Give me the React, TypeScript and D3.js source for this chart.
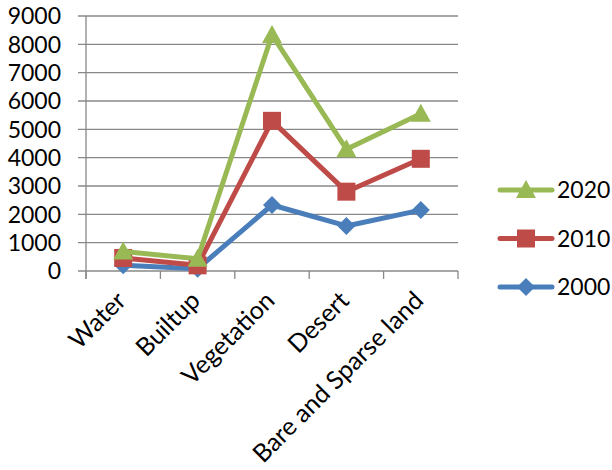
import React from "react";
import * as d3 from "d3";

const categories = ["Water", "Builtup", "Vegetation", "Desert", "Bare and Sparse land"];
const series2000 = [200, 80, 2330, 1590, 2150];
const series2010 = [460, 200, 5300, 2800, 3960];
const series2020 = [690, 430, 8330, 4300, 5550];
const yTicks = [0, 1000, 2000, 3000, 4000, 5000, 6000, 7000, 8000, 9000];

const seriesList = [
  { name: "2000", values: series2000, color: "#4A7EBB", marker: "diamond" },
  { name: "2010", values: series2010, color: "#BE4B48", marker: "square" },
  { name: "2020", values: series2020, color: "#98B954", marker: "triangle" },
];
const legendOrder = ["2020", "2010", "2000"];

const W = 612, H = 470;
const left = 86, right = 458, top = 16, bottom = 271;
const font = "Lato, 'Open Sans', sans-serif";

function Marker({ type, x, y, color }: { type: string; x: number; y: number; color: string }) {
  if (type === "square") return <rect x={x - 9} y={y - 9} width={18} height={18} fill={color} />;
  if (type === "diamond") return <path d={`M${x},${y - 9}L${x + 9},${y}L${x},${y + 9}L${x - 9},${y}Z`} fill={color} />;
  return <path d={`M${x},${y - 10}L${x + 10},${y + 8}L${x - 10},${y + 8}Z`} fill={color} />;
}

export default function App() {
  const x = d3.scaleBand().domain(categories).range([left, right]);
  const y = d3.scaleLinear().domain([0, 9000]).range([bottom, top]);
  const cx = (c: string) => (x(c) as number) + x.bandwidth() / 2;
  const line = d3.line<number>().x((_, i) => cx(categories[i])).y((v) => y(v));
  const bandEdges = categories.map((c) => x(c) as number).concat([right]);
  return (
    <svg width={W} height={H} style={{ position: "absolute", left: 0, top: 0 }}>
      <rect width={W} height={H} fill="#fff" />
      {yTicks.map((t) => (
        <g key={t}>
          <line x1={78} x2={right} y1={y(t)} y2={y(t)} stroke="#888" strokeWidth={1.3} />
          <text x={61} y={y(t)} dy="0.36em" textAnchor="end" fontFamily={font} fontSize={23} fill="#000">{t}</text>
        </g>
      ))}
      <line x1={left} x2={left} y1={top} y2={bottom + 8} stroke="#888" strokeWidth={1.3} />
      {bandEdges.map((e, i) => (
        <line key={i} x1={e} x2={e} y1={bottom} y2={bottom + 8} stroke="#888" strokeWidth={1.3} />
      ))}
      {categories.map((c) => (
        <text key={c} transform={`translate(${cx(c) - 2},${bottom + 25}) rotate(-45)`} textAnchor="end" dy="0.35em" fontFamily={font} fontSize={25} fill="#000">{c}</text>
      ))}
      {seriesList.map((s) => (
        <g key={s.name}>
          <path d={line(s.values) as string} fill="none" stroke={s.color} strokeWidth={5} strokeLinejoin="round" strokeLinecap="round" />
          {s.values.map((v, i) => (
            <Marker key={i} type={s.marker} x={cx(categories[i])} y={y(v)} color={s.color} />
          ))}
        </g>
      ))}
      {legendOrder.map((n, i) => {
        const s = seriesList.find((d) => d.name === n)!;
        const ly = 190 + i * 48.5;
        return (
          <g key={n}>
            <line x1={500} x2={552} y1={ly} y2={ly} stroke={s.color} strokeWidth={5} strokeLinecap="round" />
            <Marker type={s.marker} x={526} y={ly} color={s.color} />
            <text x={557} y={ly} dy="0.36em" fontFamily={font} fontSize={23} fill="#000">{n}</text>
          </g>
        );
      })}
    </svg>
  );
}
